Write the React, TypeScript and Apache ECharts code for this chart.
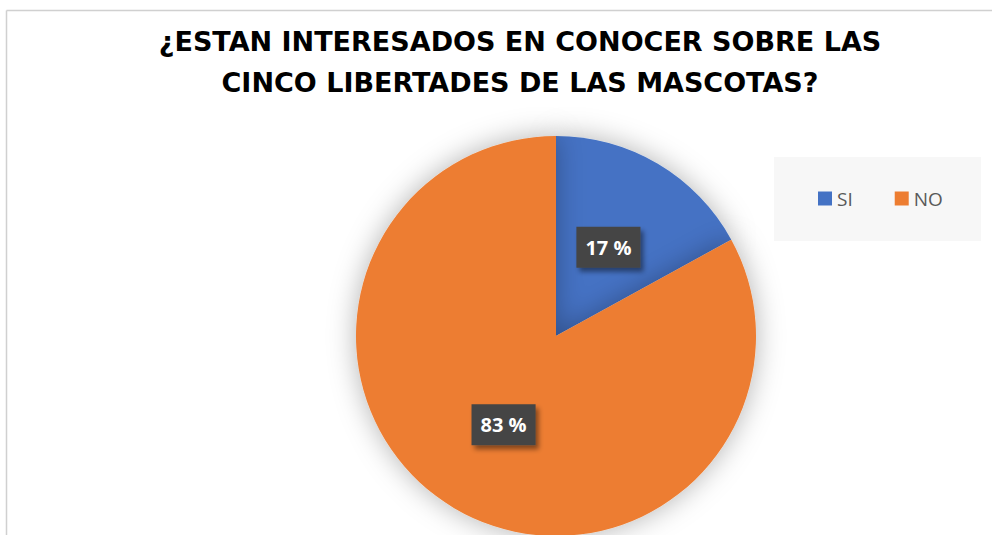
import React, { useEffect, useRef } from "react";
import * as echarts from "echarts";

const titleLines = ["¿ESTAN INTERESADOS EN CONOCER SOBRE LAS", "CINCO LIBERTADES DE LAS MASCOTAS?"];
const categories = ["SI", "NO"];
const values = [17, 83];
const colors = ["#4472C4", "#ED7D31"];

export default function App() {
  const ref = useRef<HTMLDivElement>(null);
  useEffect(() => {
    if (!ref.current) return;
    const chart = echarts.init(ref.current, null, { renderer: "svg" });
    chart.setOption({
      animation: false,
      backgroundColor: "#ffffff",
      title: {
        text: titleLines.join("\n"),
        left: 515,
        top: 16,
        textAlign: "center",
        textStyle: {
          fontFamily: "DejaVu Sans",
          fontWeight: "bold",
          fontSize: 27,
          lineHeight: 41,
          color: "#000000",
        },
      },
      graphic: [
        {
          type: "line",
          shape: { x1: 6.5, y1: 10.5, x2: 992, y2: 10.5 },
          style: { stroke: "#d0d0d0", lineWidth: 1.5 },
        },
        {
          type: "line",
          shape: { x1: 6.5, y1: 10.5, x2: 6.5, y2: 535 },
          style: { stroke: "#d0d0d0", lineWidth: 1.5 },
        },
        {
          type: "rect",
          shape: { x: 774, y: 157, width: 207, height: 84 },
          style: { fill: "#f7f7f7" },
          z: -1,
        },
      ],
      legend: {
        data: categories,
        left: 818,
        top: 189,
        padding: 0,
        orient: "horizontal",
        itemWidth: 14,
        itemHeight: 14,
        itemGap: 42,
        icon: "rect",
        textStyle: { fontFamily: "Open Sans", fontSize: 19, color: "#595959", padding: [0, 0, 0, 0] },
      },
      series: [
        {
          type: "pie",
          center: [556, 336],
          radius: 200,
          startAngle: 90,
          clockwise: true,
          itemStyle: {
            shadowBlur: 28,
            shadowColor: "rgba(0,0,0,0.3)",
          },
          label: {
            show: true,
            position: "inside",
            formatter: (p: any) => `${p.value} %`,
            color: "#ffffff",
            fontFamily: "Open Sans",
            fontWeight: "bold",
            fontSize: 20,
            backgroundColor: "#444444",
            padding: [11, 9, 10, 9],
            shadowBlur: 5,
            shadowOffsetX: 3,
            shadowOffsetY: 4,
            shadowColor: "rgba(0,0,0,0.45)",
          },
          labelLine: { show: false },
          data: categories.map((c, i) => ({
            name: c,
            value: values[i],
            itemStyle: { color: colors[i] },
          })),
        },
      ],
    });
    return () => chart.dispose();
  }, []);
  return (
    <div
      ref={ref}
      style={{ position: "absolute", left: 0, top: 0, width: 992, height: 535 }}
    />
  );
}
